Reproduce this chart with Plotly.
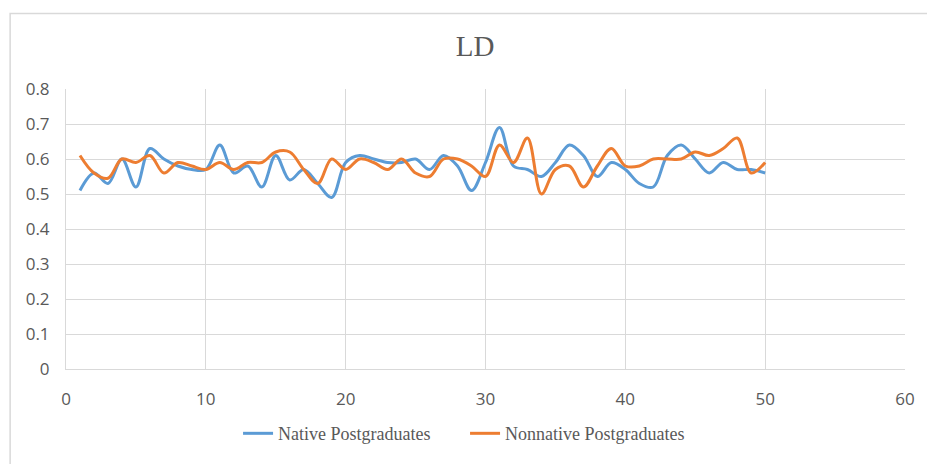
import plotly.graph_objects as go

x_vals = list(range(1, 51))
native = [0.51, 0.56, 0.53, 0.60, 0.52, 0.63, 0.60, 0.58, 0.57, 0.57,
          0.64, 0.56, 0.58, 0.52, 0.61, 0.54, 0.57, 0.53, 0.49, 0.59,
          0.61, 0.60, 0.59, 0.59, 0.60, 0.57, 0.61, 0.58, 0.51, 0.59,
          0.69, 0.58, 0.57, 0.55, 0.59, 0.64, 0.61, 0.55, 0.59, 0.57,
          0.53, 0.52, 0.61, 0.64, 0.60, 0.56, 0.59, 0.57, 0.57, 0.56]
nonnative = [0.61, 0.56, 0.545, 0.60, 0.59, 0.61, 0.56, 0.59, 0.58, 0.57,
             0.59, 0.57, 0.59, 0.59, 0.62, 0.62, 0.57, 0.53, 0.60, 0.57,
             0.60, 0.59, 0.57, 0.60, 0.56, 0.55, 0.60, 0.60, 0.58, 0.55,
             0.64, 0.59, 0.66, 0.50, 0.57, 0.58, 0.52, 0.58, 0.63, 0.58,
             0.58, 0.60, 0.60, 0.60, 0.62, 0.61, 0.63, 0.66, 0.56, 0.59]
series_names = ["Native Postgraduates", "Nonnative Postgraduates"]
x_ticks = [0, 10, 20, 30, 40, 50, 60]
y_ticks = [0, 0.1, 0.2, 0.3, 0.4, 0.5, 0.6, 0.7, 0.8]
y_tick_text = ["0", "0.1", "0.2", "0.3", "0.4", "0.5", "0.6", "0.7", "0.8"]

W, H = 927, 464
L, R, T, B = 66, 20, 89, 89
pw, ph = W - L - R, H - T - B

fig = go.Figure()
fig.add_trace(go.Scatter(x=x_vals, y=native, mode="lines", name=series_names[0],
                         line=dict(color="#5B9BD5", width=3, shape="spline", smoothing=1.0)))
fig.add_trace(go.Scatter(x=x_vals, y=nonnative, mode="lines", name=series_names[1],
                         line=dict(color="#ED7D31", width=3, shape="spline", smoothing=1.0)))

tickfont = dict(family="Open Sans, Noto Sans, sans-serif", size=17, color="#595959")
fig.update_xaxes(range=[0, 60], tickvals=x_ticks, showgrid=True, gridcolor="#D9D9D9", gridwidth=1,
                 showline=True, linecolor="#D9D9D9", linewidth=1, zeroline=False,
                 ticks="outside", ticklen=15, tickcolor="rgba(0,0,0,0)", tickfont=tickfont)
fig.update_yaxes(range=[0, 0.8], tickvals=y_ticks, ticktext=y_tick_text, showgrid=True,
                 gridcolor="#D9D9D9", gridwidth=1, showline=True, linecolor="#D9D9D9",
                 linewidth=1, zeroline=False, ticks="outside", ticklen=12,
                 tickcolor="rgba(0,0,0,0)", tickfont=tickfont)

# chart-area border (left, top)
bx0 = (10 - L) / pw
by1 = 1 + (T - 12) / ph
by0 = -(B + 20) / ph
bx1 = 1 + (R + 20) / pw
fig.add_shape(type="rect", xref="paper", yref="paper", x0=bx0, x1=bx1, y0=by0, y1=by1,
              line=dict(color="#D9D9D9", width=1.5), fillcolor="rgba(0,0,0,0)", layer="below")

fig.update_layout(
    width=W, height=H,
    margin=dict(l=L, r=R, t=T, b=B),
    paper_bgcolor="white", plot_bgcolor="white",
    title=dict(text="LD", x=(476 - L) / pw, xref="paper", xanchor="center",
               y=1 - 46 / H, yanchor="middle",
               font=dict(family="Liberation Serif, Times New Roman, serif", size=29, color="#595959")),
    legend=dict(orientation="h", x=(466 - L) / pw, xanchor="center", y=-(441 - (T + ph)) / ph,
                yanchor="middle",
                font=dict(family="Liberation Serif, Times New Roman, serif", size=18, color="#595959"),
                itemwidth=30, entrywidth=182, entrywidthmode="pixels", bgcolor="rgba(0,0,0,0)"),
    showlegend=True,
)

fig.write_html("out.html")
